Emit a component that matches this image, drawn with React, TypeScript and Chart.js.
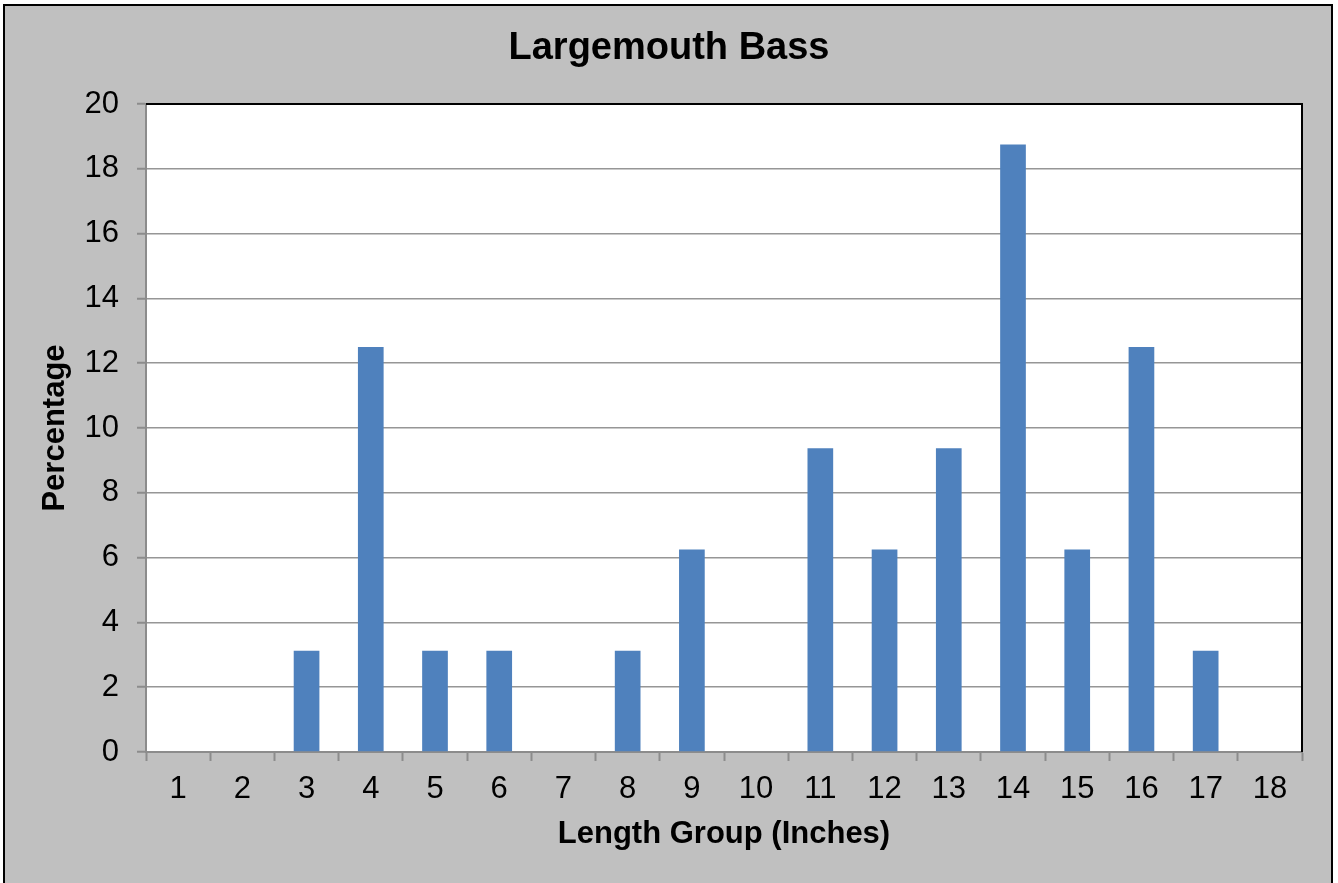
import React, { useEffect, useRef } from "react";
import { Chart, registerables } from "chart.js";

Chart.register(...registerables);

const categories = ["1", "2", "3", "4", "5", "6", "7", "8", "9", "10", "11", "12", "13", "14", "15", "16", "17", "18"];
const percentages = [0, 0, 3.125, 12.5, 3.125, 3.125, 0, 3.125, 6.25, 0, 9.375, 6.25, 9.375, 18.75, 6.25, 12.5, 3.125, 0];
const chartTitle = "Largemouth Bass";
const xTitle = "Length Group (Inches)";
const yTitle = "Percentage";

const FONT = "'Liberation Sans', Arial, sans-serif";
const W = 1338;
const H = 883;

const framePlugin = {
  id: "frame",
  beforeDraw(chart: any) {
    const { ctx, chartArea } = chart;
    ctx.save();
    ctx.fillStyle = "#ffffff";
    ctx.fillRect(0, 0, W, H);
    ctx.fillStyle = "#c0c0c0";
    ctx.fillRect(4, 5, 1328, 900);
    ctx.strokeStyle = "#000000";
    ctx.lineWidth = 2;
    ctx.strokeRect(4, 5, 1328, 900);
    ctx.fillStyle = "#ffffff";
    ctx.fillRect(chartArea.left, chartArea.top, chartArea.right - chartArea.left, chartArea.bottom - chartArea.top);
    ctx.restore();
  },
  afterDatasetsDraw(chart: any) {
    const { ctx, chartArea } = chart;
    ctx.save();
    ctx.strokeStyle = "#000000";
    ctx.lineWidth = 2;
    ctx.beginPath();
    ctx.moveTo(chartArea.left, chartArea.top);
    ctx.lineTo(chartArea.right, chartArea.top);
    ctx.lineTo(chartArea.right, chartArea.bottom);
    ctx.stroke();
    ctx.restore();
  },
};

export default function App() {
  const ref = useRef<HTMLCanvasElement | null>(null);
  useEffect(() => {
    if (!ref.current) return;
    const chart = new Chart(ref.current, {
      type: "bar",
      data: {
        labels: categories,
        datasets: [
          {
            data: percentages,
            backgroundColor: "#4f81bd",
            borderWidth: 0,
            categoryPercentage: 1,
            barPercentage: 0.4,
          },
        ],
      },
      options: {
        responsive: false,
        animation: false,
        devicePixelRatio: 1,
        layout: { padding: { left: 36, top: 0, right: 36, bottom: 0 } },
        plugins: {
          legend: { display: false },
          tooltip: { enabled: false },
          title: {
            display: true,
            text: chartTitle,
            color: "#000000",
            font: { family: FONT, size: 38, weight: "bold", lineHeight: 1.2 },
            padding: { top: 26, bottom: 32.4 },
          },
        },
        scales: {
          x: {
            offset: true,
            afterFit: (scale: any) => {
              scale.height = 131;
            },
            grid: {
              offset: true,
              drawOnChartArea: false,
              drawTicks: true,
              tickLength: 9,
              tickColor: "#8c8c8c",
              tickWidth: 2,
            },
            border: { display: true, color: "#8c8c8c", width: 2 },
            ticks: {
              color: "#000000",
              padding: 9.5,
              maxRotation: 0,
              autoSkip: false,
              font: { family: FONT, size: 31 },
            },
            title: {
              display: true,
              text: xTitle,
              color: "#000000",
              font: { family: FONT, size: 31, weight: "bold", lineHeight: 1.2 },
              padding: { top: 0, bottom: 30 },
            },
          },
          y: {
            min: 0,
            max: 20,
            afterFit: (scale: any) => {
              scale.width = 110;
            },
            grid: {
              color: "#969696",
              lineWidth: 1.5,
              drawTicks: true,
              tickLength: 9,
              tickColor: "#8c8c8c",
              tickWidth: 2,
            },
            border: { display: true, color: "#8c8c8c", width: 2 },
            ticks: {
              stepSize: 2,
              color: "#000000",
              padding: 18,
              font: { family: FONT, size: 31 },
            },
            title: {
              display: true,
              text: yTitle,
              color: "#000000",
              font: { family: FONT, size: 31, weight: "bold", lineHeight: 1.2 },
              padding: { top: 1, bottom: 0 },
            },
          },
        },
      },
      plugins: [framePlugin],
    });
    return () => chart.destroy();
  }, []);
  return (
    <div style={{ position: "absolute", left: 0, top: 0, width: W, height: H }}>
      <canvas ref={ref} width={W} height={H} style={{ width: W, height: H, display: "block" }} />
    </div>
  );
}
